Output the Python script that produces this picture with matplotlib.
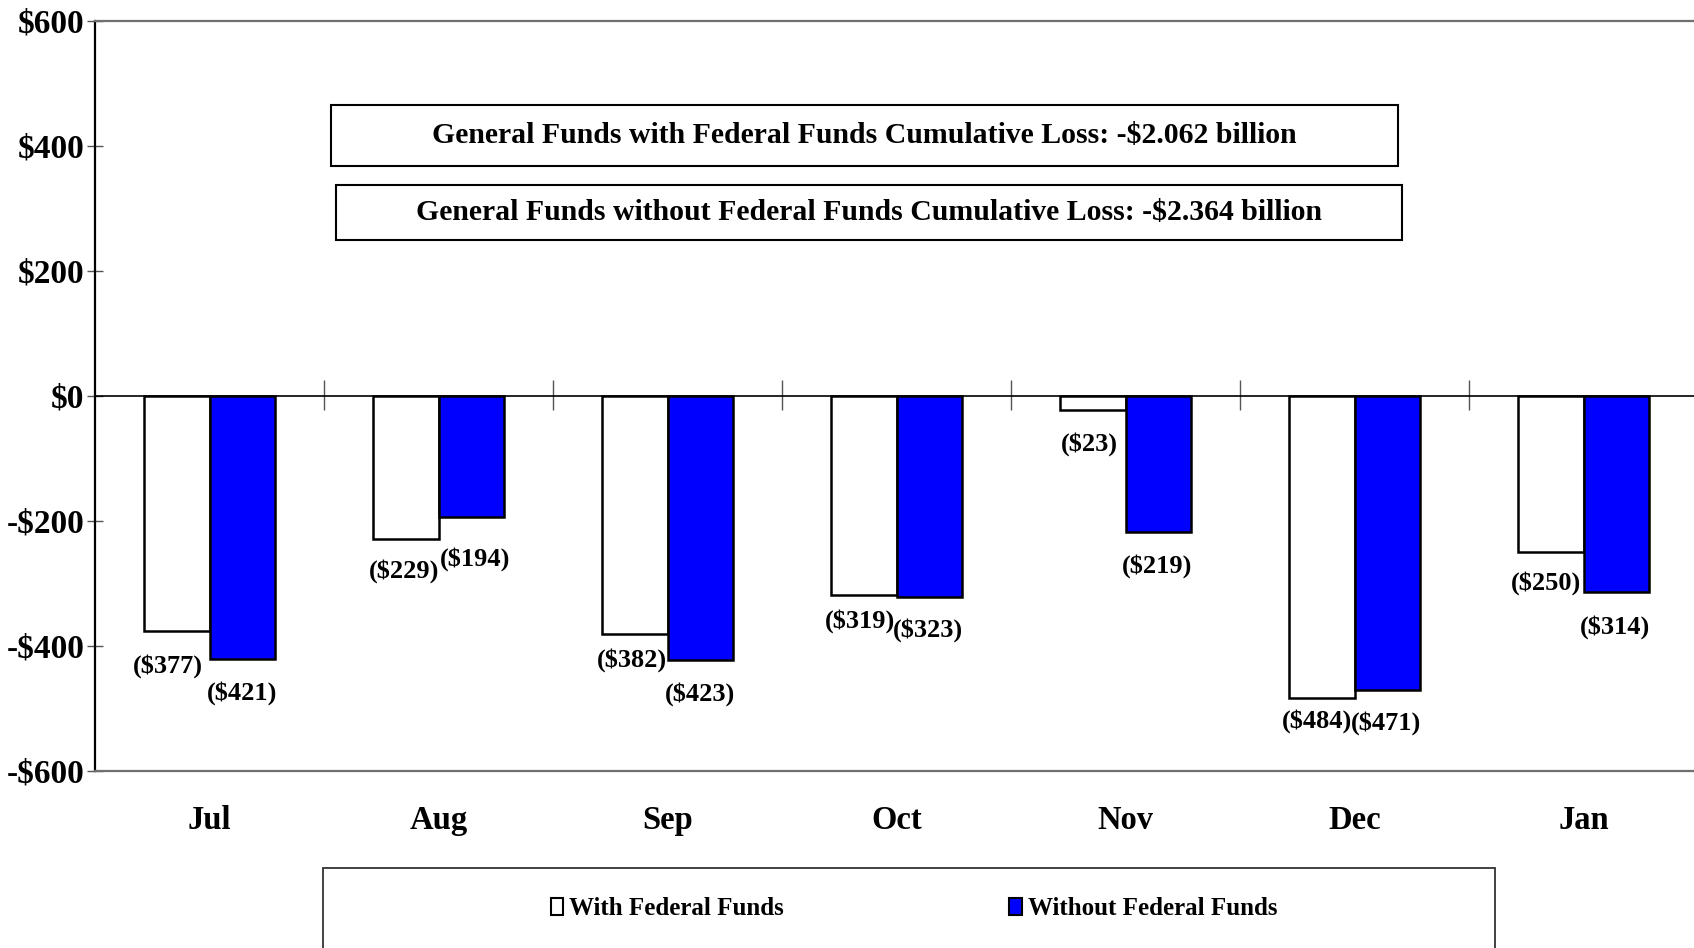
import matplotlib
matplotlib.use("Agg")
import matplotlib.pyplot as plt
from matplotlib.patches import Rectangle, Patch
import numpy as np

# ---- data ----
months = ["Jul", "Aug", "Sep", "Oct", "Nov", "Dec", "Jan"]
with_federal = [-377, -229, -382, -319, -23, -484, -250]
without_federal = [-421, -194, -423, -323, -219, -471, -314]
series_names = ["With Federal Funds", "Without Federal Funds"]
y_ticks = [-600, -400, -200, 0, 200, 400, 600]
summary_lines = [
    "General Funds with Federal Funds Cumulative Loss: -$2.062 billion",
    "General Funds without Federal Funds Cumulative Loss: -$2.364 billion",
]

# ---- layout helpers (pixel offsets for the value labels) ----
white_dx = [-9, -2, -3, -4, -4, -5, -5]
white_dy = [35, 32, 26, 26, 34, 23, 31]
blue_dx = [0, 4, 0, -1, -1, -1, -1]
blue_dy = [34, 42, 34, 33, 34, 33, 35]

plt.rcParams['font.family'] = ['Liberation Serif', 'DejaVu Serif']
plt.rcParams['font.weight'] = 'bold'

W, H = 1694, 948
fig = plt.figure(figsize=(W / 100, H / 100), dpi=100)


def fx(px):
    return px / W


def fy(py):
    return 1 - py / H


ax = fig.add_axes([fx(95), fy(770.5), fx(1698) - fx(95), fy(20.5) - fy(770.5)])

x = np.arange(len(months))
bw = 0.284
blue = "#0000FF"
ax.bar(x - bw / 2, with_federal, bw, color="white", edgecolor="black", linewidth=1.8, zorder=3)
ax.bar(x + bw / 2, without_federal, bw, color=blue, edgecolor="black", linewidth=1.8, zorder=3)

ymin, ymax = y_ticks[0], y_ticks[-1]
ax.set_ylim(ymin, ymax)
ax.set_xlim(-0.5, len(months) - 0.5)

ax.set_yticks(y_ticks)
ax.set_yticklabels([("-$%d" % abs(v)) if v < 0 else ("$%d" % v) for v in y_ticks])
ax.tick_params(axis='y', direction='inout', length=11, width=1, color='#555555',
               labelsize=24, pad=2)
ax.set_xticks(x)
ax.set_xticklabels(months)
ax.tick_params(axis='x', length=0, labelsize=23.5, pad=25)

ax.spines['left'].set_color('black')
ax.spines['left'].set_linewidth(1.6)
for s in ['top', 'bottom']:
    ax.spines[s].set_color('#707070')
    ax.spines[s].set_linewidth(1.6)
ax.spines['right'].set_visible(False)

# zero line with category separators
ax.axhline(0, color='black', linewidth=1.2, zorder=2)
zero_loc = (0 - ymin) / (ymax - ymin)
sec = ax.secondary_xaxis(zero_loc)
sec.set_xticks(x[:-1] + 0.5)
sec.set_xticklabels([])
sec.tick_params(direction='inout', length=22, width=1, color='#555555')
for s in sec.spines.values():
    s.set_visible(False)

# value labels
for i in range(len(months)):
    for val, xpos, dx, dy in ((with_federal[i], x[i] - bw / 2, white_dx[i], white_dy[i]),
                              (without_federal[i], x[i] + bw / 2, blue_dx[i], blue_dy[i])):
        ax.annotate("(${:,.0f})".format(abs(val)), xy=(xpos, val), xytext=(dx, -dy),
                    textcoords='offset pixels', ha='center', va='center',
                    fontsize=19, fontweight='bold', zorder=5)

# summary boxes
boxes = [(331, 105, 1398, 166), (336, 185, 1402, 240)]
for (l, t, r, b), txt in zip(boxes, summary_lines):
    fig.add_artist(Rectangle((fx(l), fy(b)), fx(r) - fx(l), fy(t) - fy(b),
                             transform=fig.transFigure, fill=True, facecolor='white',
                             edgecolor='black', linewidth=1.5, zorder=4))
    fig.text(fx((l + r) / 2), fy((t + b) / 2), txt, ha='center', va='center',
             fontsize=21.4, fontweight='bold', zorder=5)

# legend
fig.add_artist(Rectangle((fx(323), fy(1000)), fx(1495) - fx(323), fy(867.5) - fy(1000),
                         transform=fig.transFigure, fill=False, edgecolor='#333333',
                         linewidth=1.3, clip_on=False))
handles = [Patch(facecolor='white', edgecolor='black', linewidth=1.5),
           Patch(facecolor=blue, edgecolor='black', linewidth=1.5)]
fig.legend(handles, series_names, loc='center', bbox_to_anchor=(fx(914), fy(908.6)),
           ncol=2, frameon=False, fontsize=18, handlelength=0.5, handleheight=0.7,
           handletextpad=0.25, columnspacing=9)

fig.savefig("out.png", dpi=100)
